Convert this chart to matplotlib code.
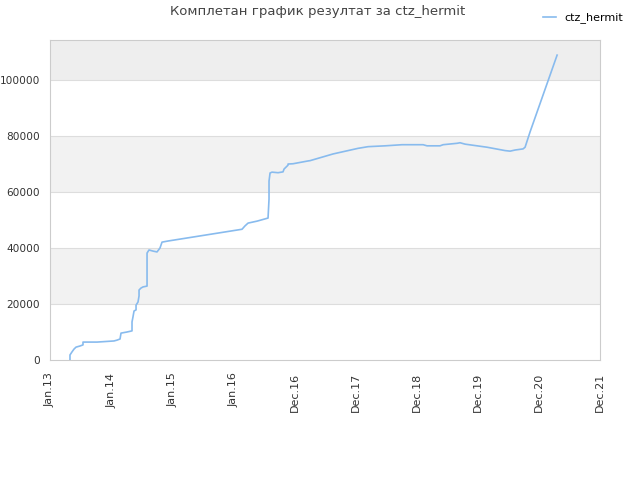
import matplotlib
matplotlib.use("Agg")
import matplotlib.pyplot as plt

# x in years since Jan 2013 (tick positions 0..9)
t = [0.327, 0.327, 0.360, 0.393, 0.426, 0.491, 0.540, 0.540, 0.769, 1.047, 1.097, 1.146,
     1.162, 1.260, 1.342, 1.342, 1.358, 1.375, 1.408, 1.408, 1.440, 1.457, 1.457, 1.489,
     1.522, 1.588, 1.588, 1.620, 1.686, 1.751, 1.800, 1.833, 1.931, 3.142, 3.191, 3.241,
     3.388, 3.568, 3.584, 3.584, 3.601, 3.633, 3.732, 3.813, 3.830, 3.895, 3.895, 3.977,
     4.223, 4.255, 4.632, 5.041, 5.205, 5.483, 5.761, 6.105, 6.170, 6.383, 6.432, 6.661,
     6.710, 6.792, 7.152, 7.447, 7.529, 7.610, 7.741, 7.774, 7.856, 8.298]
score = [0, 1800, 2900, 3900, 4600, 5000, 5400, 6400, 6400, 6800, 7100, 7500,
         9600, 10000, 10400, 13600, 15400, 17500, 17900, 19600, 20700, 22900, 25000, 25700,
         26100, 26400, 38200, 39300, 38900, 38600, 40000, 42100, 42500, 46700, 47900, 48900,
         49600, 50700, 57500, 63900, 66800, 67100, 66900, 67200, 68200, 69600, 70000, 70100,
         71100, 71200, 73600, 75600, 76200, 76500, 76900, 76900, 76500, 76500, 76900, 77400,
         77600, 77100, 76000, 74800, 74600, 75000, 75400, 76000, 81500, 108900]
xtick_labels = ["Jan.13", "Jan.14", "Jan.15", "Jan.16", "Dec.16", "Dec.17",
                "Dec.18", "Dec.19", "Dec.20", "Dec.21"]
yticks = [0, 20000, 40000, 60000, 80000, 100000]

fig = plt.figure(figsize=(6.4, 4.8), dpi=100)
ax = fig.add_axes([50/640, 120/480, 550/640, 320/480])
ymax = 114300
ax.set_xlim(0, 9)
ax.set_ylim(0, ymax)

# alternating bands
bands = [(20000, 40000, "#f2f2f2"), (60000, 80000, "#f2f2f2"), (100000, ymax, "#eeeeee")]
for lo, hi, c in bands:
    ax.axhspan(lo, hi, color=c, zorder=0, lw=0)
for y in yticks[1:]:
    ax.axhline(y, color="#dddddd", lw=0.8, zorder=1)

ax.plot(t, score, color="#88bbee", lw=1.2, zorder=3, label="ctz_hermit")

ax.set_xticks(range(len(xtick_labels)))
ax.set_xticklabels(xtick_labels, rotation=90, fontsize=8, color="#333333")
ax.set_yticks(yticks)
ax.set_yticklabels([str(v) for v in yticks], fontsize=7.6, color="#333333")
ax.tick_params(axis="x", length=0, pad=9)
ax.tick_params(axis="y", length=0, pad=7)
for s in ax.spines.values():
    s.set_color("#cccccc")

fig.text(0.497, 0.975, "Комплетан график резултат за ctz_hermit", ha="center", va="center",
         fontsize=9.5, color="#444444")
leg = fig.legend(loc="upper right", bbox_to_anchor=(0.99, 0.995), frameon=False, fontsize=8,
                 handlelength=1.2, handletextpad=0.8)

fig.savefig("out.png", dpi=100)
